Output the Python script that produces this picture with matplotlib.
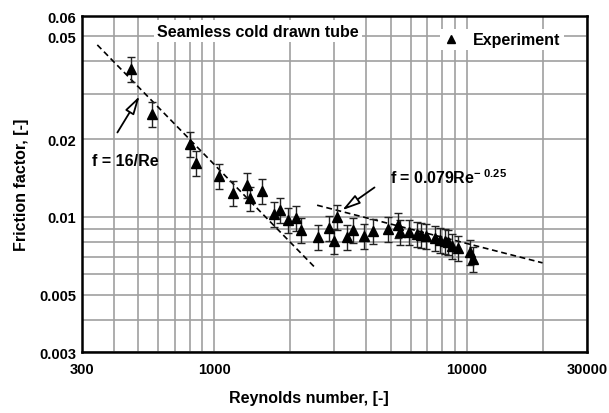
import matplotlib
matplotlib.use("Agg")
import matplotlib.pyplot as plt
import numpy as np
from matplotlib.ticker import FixedLocator, NullFormatter

plt.rcParams['font.family'] = ['Liberation Sans', 'DejaVu Sans']
plt.rcParams['font.weight'] = 'bold'
plt.rcParams['axes.labelweight'] = 'bold'
plt.rcParams['mathtext.fontset'] = 'custom'
plt.rcParams['mathtext.rm'] = 'Liberation Sans:bold'
plt.rcParams['mathtext.default'] = 'rm'

re_exp = [469, 568, 803, 848, 1046, 1189, 1350, 1389, 1549, 1729, 1825, 1962,
          2111, 2210, 2580, 2853, 2986, 3069, 3357, 3551, 3926, 4265, 4888,
          5352, 5452, 5917, 6358, 6596, 6906, 7502, 7857, 8220, 8450, 8759,
          9249, 10320, 10610]
f_exp = [0.0375, 0.0251, 0.0192, 0.0162, 0.0144, 0.0124, 0.0133, 0.0118,
         0.0126, 0.0103, 0.01066, 0.00974, 0.00992, 0.00891, 0.00837, 0.00907,
         0.00808, 0.01001, 0.00837, 0.00891, 0.00845, 0.00883, 0.00899,
         0.00932, 0.00875, 0.00875, 0.0086, 0.00852, 0.00845, 0.0083, 0.00815,
         0.00808, 0.0080, 0.00773, 0.00759, 0.00733, 0.00688]
err_frac = 0.11  # error bars look like about +-11 %

# correlation lines (ends)
re_lam = [345, 2500]
re_turb = [2560, 20000]

x_major = [300, 1000, 10000, 30000]
x_minor = [400, 500, 600, 700, 800, 900, 2000, 3000, 4000, 5000, 6000, 7000,
           8000, 9000, 20000]
y_major = [0.003, 0.005, 0.01, 0.02, 0.05, 0.06]
y_minor = [0.004, 0.006, 0.007, 0.008, 0.009, 0.03, 0.04]

re_exp = np.array(re_exp)
f_exp = np.array(f_exp)
re_lam = np.array(re_lam, dtype=float)
re_turb = np.array(re_turb, dtype=float)

fig = plt.figure(figsize=(6.09, 4.14), dpi=100)
ax = fig.add_axes([0.1346, 0.1473, 0.8293, 0.8116])

ax.set_xscale('log')
ax.set_yscale('log')
ax.set_xlim(300, 30000)
ax.set_ylim(0.003, 0.06)

ax.xaxis.set_major_locator(FixedLocator(x_major))
ax.xaxis.set_minor_locator(FixedLocator(x_minor))
ax.yaxis.set_major_locator(FixedLocator(y_major))
ax.yaxis.set_minor_locator(FixedLocator(y_minor))
ax.set_xticklabels([str(v) for v in x_major])
ax.set_yticklabels([str(v) for v in y_major])
ax.xaxis.set_minor_formatter(NullFormatter())
ax.yaxis.set_minor_formatter(NullFormatter())
ax.tick_params(which='both', length=0, labelsize=10.5, pad=4)
ax.tick_params(axis='x', pad=7)

ax.grid(which='both', color='#a0a0a0', lw=1.2)
ax.set_axisbelow(True)
for s in ax.spines.values():
    s.set_linewidth(1.8)
    s.set_color('black')

ax.plot(re_lam, 16 / re_lam, color='black', lw=1.2, dashes=(3.5, 2.2), zorder=3)
ax.plot(re_turb, 0.079 * re_turb ** -0.25, color='black', lw=1.2,
        dashes=(3.5, 2.2), zorder=3)

ax.errorbar(re_exp, f_exp, yerr=err_frac * f_exp, fmt='none', ecolor='#222222',
            elinewidth=1.0, capsize=3, capthick=1.0, zorder=4)
ax.plot(re_exp, f_exp, '^', color='black', ms=7, zorder=5, label='Experiment')

leg = ax.legend(loc='upper right', bbox_to_anchor=(0.97, 0.985), frameon=True,
                fancybox=False, edgecolor='none', facecolor='white', framealpha=1,
                fontsize=11.5, handlelength=1.0, handletextpad=0.9,
                borderpad=0.2, markerscale=0.85)

ax.text(0.149, 0.955, 'Seamless cold drawn tube', transform=ax.transAxes,
        fontsize=11.5, ha='left', va='center',
        bbox=dict(fc='white', ec='none', pad=2.5), zorder=6)

arrow_style = dict(arrowstyle='-|>,head_length=1.1,head_width=0.3',
                   fc='white', ec='black', lw=1.3)
ax.annotate('', xy=(514, 0.030), xytext=(409, 0.0208),
            arrowprops=arrow_style, zorder=6)
ax.text(329, 0.0166, 'f = 16/Re', fontsize=11.5, ha='left', va='center')

ax.annotate('', xy=(3151, 0.01047), xytext=(4411, 0.0132),
            arrowprops=arrow_style, zorder=6)
ax.text(4985, 0.0143, r'f = 0.079Re$^{\mathrm{-\ 0.25}}$', fontsize=11.5,
        ha='left', va='center')

ax.set_xlabel('Reynolds number, [-]', fontsize=11.5)
ax.set_ylabel('Friction factor, [-]', fontsize=11.5)
ax.xaxis.set_label_coords(0.4495, -0.113)
ax.yaxis.set_label_coords(-0.105, 0.5)

fig.savefig('out.png', dpi=100)
